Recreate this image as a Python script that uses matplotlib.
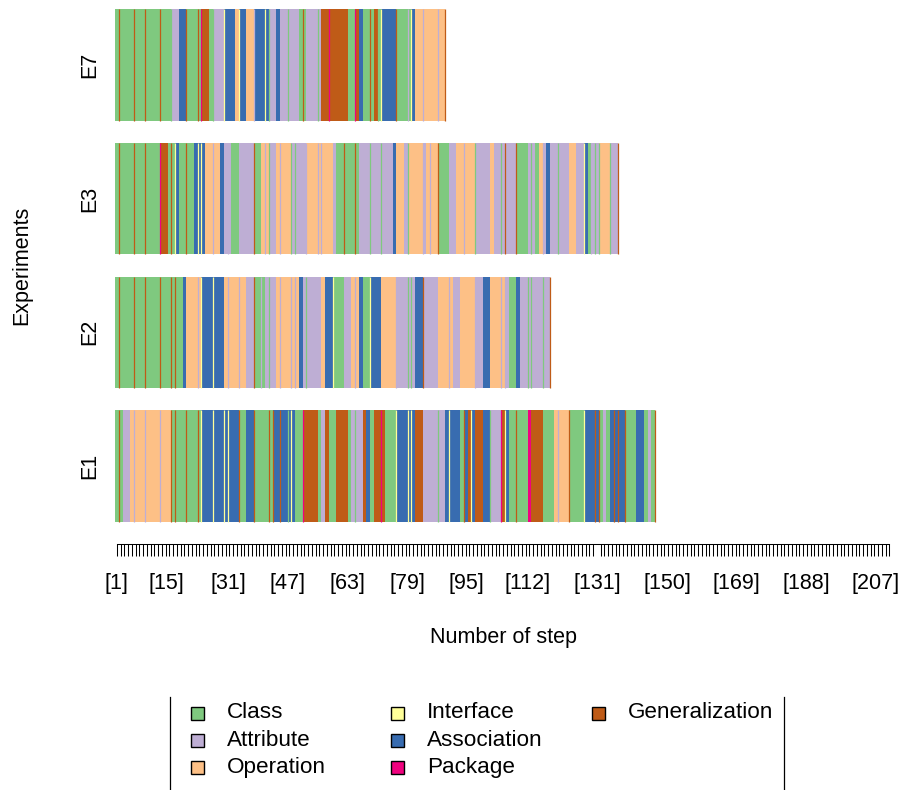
import matplotlib
matplotlib.use("Agg")
import matplotlib.pyplot as plt
from matplotlib.patches import Rectangle

plt.rcParams["font.family"] = ["Liberation Sans", "DejaVu Sans"]

# ------------------------------------------------------------ dados
experimentos = ["E1", "E2", "E3", "E7"]
categorias = ["Class", "Attribute", "Operation", "Interface",
              "Association", "Package", "Generalization"]
codigos = ["C", "A", "O", "I", "S", "P", "G"]
cores = ["#7FC97F", "#BEAED4", "#FDC086", "#FFFF99",
         "#386CB0", "#F0027F", "#BF5B17"]

# uma letra maiúscula por passo; minúscula = filete colorido antes do próximo passo
seq_e1 = ("CgCAAOaOOOaOOOOaOOOgCgCCCgCCCgCiSSSiSSSiSiSSSgCCSSgCCCCgCgSSgSScSiS"
          "CCpGGGGCAGCCGGGCAcAAGSCGGpGCCCiSSSiSiSGGAAAAcAASiSSSCgSGiSGGSScAAA"
          "pGiSCCgCCCPGGGCCCOaOOOgCCCCiSSSgSgCACSgSgSSgCCCSSCACg")
seq_e2 = ("CgCCCCgCCCgCCCCgCCCgCgCCSOOOaOiSSSiSSSOaOOOaOOAAgCCaCAcAAOaOOOaOaO"
          "SAcAAAAOSSiCCCAAOaOSCCiSSSOOOOaAAAcAcASSgAAAAOOOaOAAOOOOaAASSOOOaO"
          "aACCSAAcAcAAAcAAg")
seq_e3 = ("CgCCCCgCCCgCCCCpGGCgCiSCCgCCSiSiSOOaOOSAaACCAAAAgCCOaOcAAOaOOOcAcAAA"
          "aOOOaOaOOOACCgCCCgCAAAcAAAcAAASOOAcOOOOaAOaOOgCCCAAOOaOOOcAAAAOAAcA"
          "gAAAgCCCAcACOaASAAcAAAOOAAiSCaAcAcOOOcAAg")
seq_e7 = ("CgCCCCgCCCgCCCCgCCCcAASSgCCCgCpGGCcAAAiSSSOiSSOOaSSSiScAASAAcAAACgC"
          "AAAcAGGpGGGGGCCpGSCCgCGcCiSSSSgCCCaCiSOOaOOOOaOOg")
sequencias = [seq_e1, seq_e2, seq_e3, seq_e7]

n_passos_eixo = 207
rotulos_x = ["[1]", "[15]", "[31]", "[47]", "[63]", "[79]", "[95]",
             "[112]", "[131]", "[150]", "[169]", "[188]", "[207]"]
pos_rotulos_x = [0.3, 13.6, 30.1, 46.1, 62.1, 78.0, 93.6,
                 110.1, 128.5, 147.2, 165.6, 184.3, 202.7]

COR = dict(zip(codigos, cores))
FS = 15.5


def _decodifica(seq):
    passos, filetes = [], []
    for ch in seq:
        if ch.isupper():
            passos.append(ch)
        else:
            filetes.append((len(passos), ch.upper()))
    return passos, filetes


def _blocos(passos):
    out, ini = [], 0
    for i in range(1, len(passos) + 1):
        if i == len(passos) or passos[i] != passos[ini]:
            out.append((passos[ini], ini, i - ini))
            ini = i
    return out


# ------------------------------------------------------------ figura
fig = plt.figure(figsize=(9.11, 7.90), dpi=100)
W, H = 911, 790
ax = fig.add_axes([115 / W, (H - 544) / H, 776.25 / W, 540 / H])
ax.set_xlim(0, n_passos_eixo)
ax.set_ylim(-0.700, 4.147)

centros = [1.2 * i for i in range(len(experimentos))]
for yc, seq in zip(centros, sequencias):
    passos, filetes = _decodifica(seq)
    for cod, ini, larg in _blocos(passos):
        ax.barh(yc, larg, left=ini, height=1.0, color=COR[cod],
                linewidth=0, antialiased=False)
    for x, cod in filetes:
        ax.vlines(x, yc - 0.5, yc + 0.5, color=COR[cod], lw=0.9)

for nome, s in ax.spines.items():
    s.set_visible(nome == "bottom")
ax.spines["bottom"].set_bounds(0.5, n_passos_eixo - 0.5)
ax.spines["bottom"].set_linewidth(0.75)

ax.set_yticks(centros, experimentos, rotation=90, va="center", fontsize=FS)
ax.tick_params(axis="y", length=0, pad=10.5)

ax.set_xticks([i + 0.5 for i in range(n_passos_eixo)], minor=True)
ax.set_xticks(pos_rotulos_x, rotulos_x, fontsize=FS)
ax.tick_params(axis="x", which="major", length=0, pad=21)
ax.tick_params(axis="x", which="minor", length=8.6, width=0.75, color="black")

# ------------------------------------------------------------ textos e legenda
lay = fig.add_axes([0, 0, 1, 1])
lay.set_xlim(0, W)
lay.set_ylim(H, 0)
lay.axis("off")
lay.patch.set_visible(False)

lay.text(22, 265, "Experiments", rotation=90, ha="center", va="center",
         fontsize=FS)
lay.text(503, 637, "Number of step", ha="center", va="center", fontsize=FS)

lay.plot([170, 170], [697, 791], color="black", lw=0.9)
lay.plot([784, 784], [697, 791], color="black", lw=0.9)

col_x = [197.5, 397.5, 598]
for i, (nome, cor) in enumerate(zip(categorias, cores)):
    c, r = divmod(i, 3)
    xq, yq = col_x[c], 713 + 27 * r
    lay.add_patch(Rectangle((xq - 6.5, yq - 6.5), 13, 13, facecolor=cor,
                            edgecolor="black", lw=1.0))
    lay.text(xq + 29.5, yq, nome, ha="left", va="center", fontsize=16.2)

fig.savefig("out.png", dpi=100)
